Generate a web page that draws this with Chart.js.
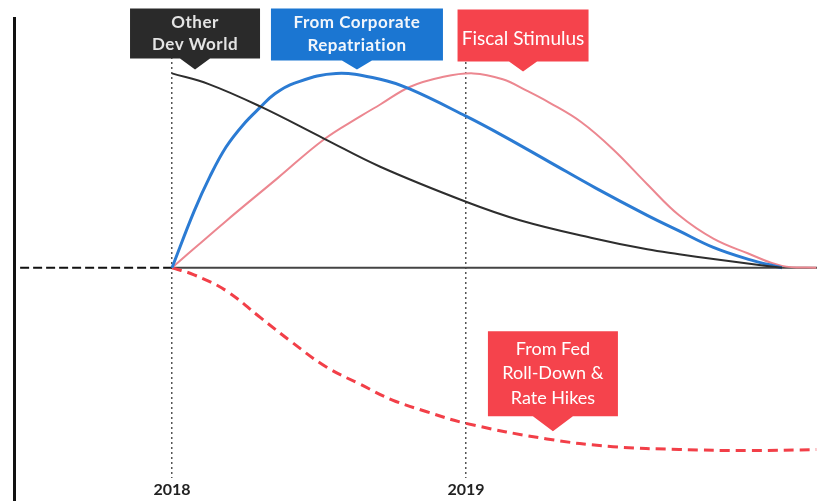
<!DOCTYPE html>
<html>
<head>
<meta charset="utf-8">
<script src="https://cdn.jsdelivr.net/npm/chart.js@4.4.1/dist/chart.umd.min.js"></script>
<style>
  html, body { margin: 0; padding: 0; background: #fff; }
  #wrap { position: relative; width: 817px; height: 501px; }
</style>
</head>
<body>
<div id="wrap"><canvas id="flows"></canvas></div>
<script>
// ============================================================
//  Liquidity flows sketch — x in months since Jan 2018, y in % of peak
// ============================================================

const yearTicks = [0, 12];
const yearLabels = ['2018', '2019'];

const otherDevMonths = [0, 1.5, 3.6, 6.2, 8.5, 12, 14.2, 17.1, 19.4, 20.7, 22.1, 23.5, 24.9];
const otherDevValues = [100, 94.5, 83, 66.5, 52, 34, 24.5, 15.5, 9.5, 7, 4.5, 2.2, 0];

const repatMonths = [0, 0.9, 1.55, 2.2, 2.9, 3.6, 4.2, 5, 6.7, 8.5, 9.7, 12, 13.5, 15.4, 17.3, 19.4, 20.7, 22.1, 23.5, 24.9];
const repatValues = [0, 29, 47, 62, 73.5, 82.5, 89.5, 95, 100, 97, 92, 78, 68, 54.5, 41, 27, 19, 10.5, 4.5, 0];

const fiscalMonths = [0, 2.2, 4.3, 6.2, 7.7, 8.5, 9.7, 11, 12.3, 13.5, 14.5, 15.4, 16.7, 18, 19.4, 20.7, 22.1, 23.5, 24.9, 26.3];
const fiscalValues = [0, 24, 46, 66, 78, 84, 93, 98, 100, 97, 91, 85, 75, 61, 43, 27, 15, 7.5, 1, 0];

const fedMonths = [0, 0.9, 2.2, 3.6, 4.9, 6.3, 7.7, 9, 10.4, 12, 15.3, 18, 20.7, 23.5, 26.3];
const fedValues = [0, -3.6, -11.7, -25.5, -38.3, -51, -60, -68, -74, -80, -88, -92, -93.4, -94, -93.5];

const zeroPreMonths = [-6.2, 0];
const zeroPostMonths = [0, 26.4];
const zeroValues = [0, 0];

const X_MIN = -6.45, X_MAX = 26.33;
const Y_MIN = -108, Y_MAX = 129;

const pairs = (xs, ys) => xs.map((x, i) => ({ x, y: ys[i] }));

// callout boxes, anchored at their arrow tip (data coords)
const CALLOUTS = [
  { lines: ['Other', 'Dev World'], at: [0.94, 102], w: 130, h: 50, tri: 11, half: 15, lh: 22, dy: 0,
    fill: '#2a2a2a', color: '#e4e4e4', font: 'bold 17px Lato', spacing: '0.5px' },
  { lines: ['From Corporate', 'Repatriation'], at: [7.55, 102], w: 172, h: 52, tri: 9, half: 15, lh: 23, dy: 0,
    fill: '#1b76d2', color: '#f2f6fb', font: 'bold 17px Lato', spacing: '0.5px' },
  { lines: ['Fiscal Stimulus'], at: [14.33, 101], w: 131, h: 52, tri: 10, half: 14, lh: 20, dy: 3,
    fill: '#f5434c', color: '#ffffff', font: '19px Lato', spacing: '0px' },
  { lines: ['From Fed', 'Roll-Down &', 'Rate Hikes'], at: [15.55, -84], w: 130, h: 85, tri: 15, half: 20, lh: 24.5, dy: 0,
    fill: '#f5434c', color: '#ffffff', font: '18px Lato', spacing: '0px' },
];

const axisLine = {
  id: 'axisLine',
  beforeDatasetsDraw(chart) {
    const { ctx, chartArea } = chart;
    ctx.save();
    ctx.strokeStyle = '#111';
    ctx.lineWidth = 3;
    ctx.beginPath();
    ctx.moveTo(chartArea.left + 0.5, chartArea.top);
    ctx.lineTo(chartArea.left + 0.5, chart.height);
    ctx.stroke();
    ctx.restore();
  },
};

const callouts = {
  id: 'callouts',
  afterDatasetsDraw(chart) {
    const { ctx, scales: { x, y } } = chart;
    CALLOUTS.forEach((c) => {
      const tx = x.getPixelForValue(c.at[0]);
      const ty = y.getPixelForValue(c.at[1]);
      const bottom = ty - c.tri, top = bottom - c.h;
      const left = tx - c.w / 2, right = tx + c.w / 2;
      ctx.save();
      ctx.fillStyle = c.fill;
      ctx.beginPath();
      ctx.moveTo(left, top);
      ctx.lineTo(right, top);
      ctx.lineTo(right, bottom);
      ctx.lineTo(tx + c.half, bottom);
      ctx.lineTo(tx, ty);
      ctx.lineTo(tx - c.half, bottom);
      ctx.lineTo(left, bottom);
      ctx.closePath();
      ctx.fill();
      ctx.fillStyle = c.color;
      ctx.font = c.font;
      ctx.letterSpacing = c.spacing;
      ctx.textAlign = 'center';
      ctx.textBaseline = 'middle';
      const mid = (top + bottom) / 2 + c.dy;
      c.lines.forEach((ln, i) => ctx.fillText(ln, tx, mid + (i - (c.lines.length - 1) / 2) * c.lh));
      ctx.restore();
    });
  },
};

const line = (label, xs, ys, color, width, extra = {}) => ({
  label, data: pairs(xs, ys), borderColor: color, borderWidth: width,
  pointRadius: 0, fill: false, tension: 0.4, ...extra,
});

new Chart(document.getElementById('flows').getContext('2d'), {
  type: 'line',
  data: {
    datasets: [
      line('Other Dev World', otherDevMonths, otherDevValues, '#2e2e2e', 2),
      line('From Corporate Repatriation', repatMonths, repatValues, '#2b7bd3', 3),
      line('Fiscal Stimulus', fiscalMonths, fiscalValues, '#ec8790', 2),
      line('From Fed Roll-Down & Rate Hikes', fedMonths, fedValues, '#f23f48', 3, { borderDash: [10, 6] }),
      line('zero (pre)', zeroPreMonths, zeroValues, '#111', 2, { borderDash: [9, 4], tension: 0 }),
      line('zero', zeroPostMonths, zeroValues, '#444', 2, { tension: 0 }),
    ],
  },
  options: {
    responsive: true, maintainAspectRatio: false, animation: false,
    layout: { padding: { left: 14, top: 17, right: 0, bottom: 0 } },
    plugins: { legend: { display: false }, tooltip: { enabled: false } },
    scales: {
      x: {
        type: 'linear', min: X_MIN, max: X_MAX,
        afterBuildTicks: (axis) => { axis.ticks = yearTicks.map((v) => ({ value: v })); },
        ticks: {
          callback: (v) => yearLabels[yearTicks.indexOf(v)] ?? '',
          color: '#222', font: { family: 'Lato', size: 16, weight: 'bold' },
          maxRotation: 0, autoSkip: false, padding: 2,
        },
        grid: { color: '#555', lineWidth: 1.5, drawTicks: false },
        border: { display: false, dash: [2, 3] },
      },
      y: { display: false, min: Y_MIN, max: Y_MAX },
    },
  },
  plugins: [axisLine, callouts],
});
</script>
</body>
</html>
